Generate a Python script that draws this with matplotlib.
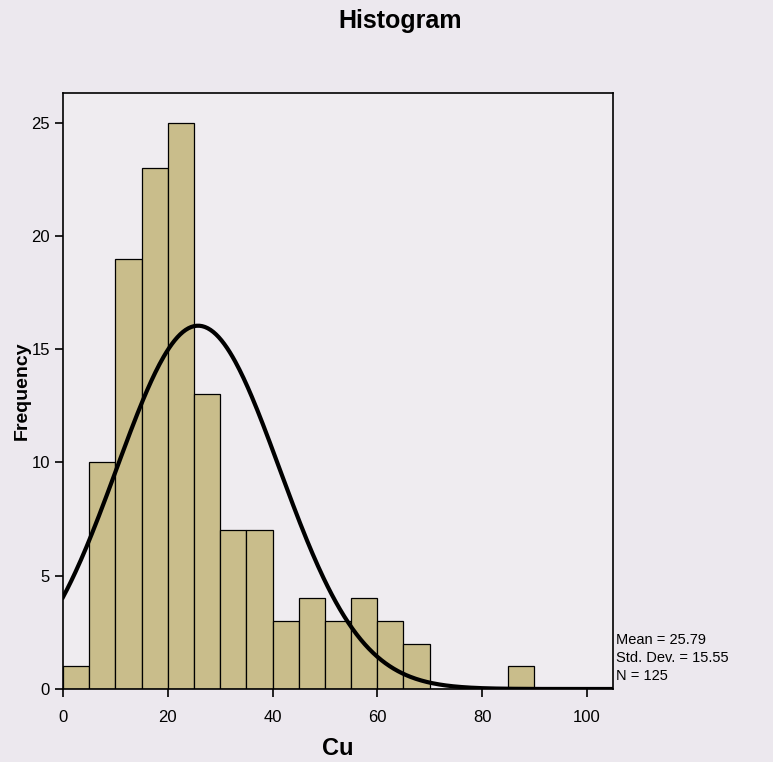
import numpy as np
import matplotlib.pyplot as plt

plt.rcParams['font.family'] = ['Liberation Sans', 'DejaVu Sans']

# bin left edges (width 5) and counts
bin_left = [0, 5, 10, 15, 20, 25, 30, 35, 40, 45, 50, 55, 60, 65, 70, 75, 80, 85]
counts = [1, 10, 19, 23, 25, 13, 7, 7, 3, 4, 3, 4, 3, 2, 0, 0, 0, 1]
bin_width = 5
mean = 25.79
std = 15.55
n = 125

bg = '#ece8ee'
fig = plt.figure(figsize=(7.73, 7.62), dpi=100, facecolor=bg)
ax = fig.add_axes([0.0815, 0.0958, 0.7115, 0.782], facecolor='#efecf0')

ax.bar(bin_left, counts, width=bin_width, align='edge', color='#c9bd8b',
       edgecolor='black', linewidth=0.9)

# normal curve scaled to counts
xs = np.linspace(0, 105, 400)
ys = n * bin_width * np.exp(-0.5 * ((xs - mean) / std) ** 2) / (std * np.sqrt(2 * np.pi))
ax.plot(xs, ys, color='black', lw=3)

ax.set_xlim(0, 105)
ax.set_ylim(0, 26.3)
ax.set_xticks([0, 20, 40, 60, 80, 100])
ax.set_yticks([0, 5, 10, 15, 20, 25])
ax.tick_params(direction='out', length=6, width=1.2, labelsize=12, colors='black')
ax.tick_params(axis='x', pad=9)
for s in ax.spines.values():
    s.set_linewidth(1.2)

ax.set_xlabel('Cu', fontsize=17, fontweight='bold', labelpad=9)
ax.set_ylabel('Frequency', fontsize=14, fontweight='bold', labelpad=0)
fig.text(0.518, 0.972, 'Histogram', ha='center', va='center', fontsize=18, fontweight='bold')

stats = ['Mean = %.2f' % mean, 'Std. Dev. = %.2f' % std, 'N = %d' % n]
for i, s in enumerate(stats):
    fig.text(0.797, 1 - (640 + 18 * i) / 762, s, ha='left', va='center', fontsize=10.5)

fig.savefig('out.png', dpi=100, facecolor=bg)
